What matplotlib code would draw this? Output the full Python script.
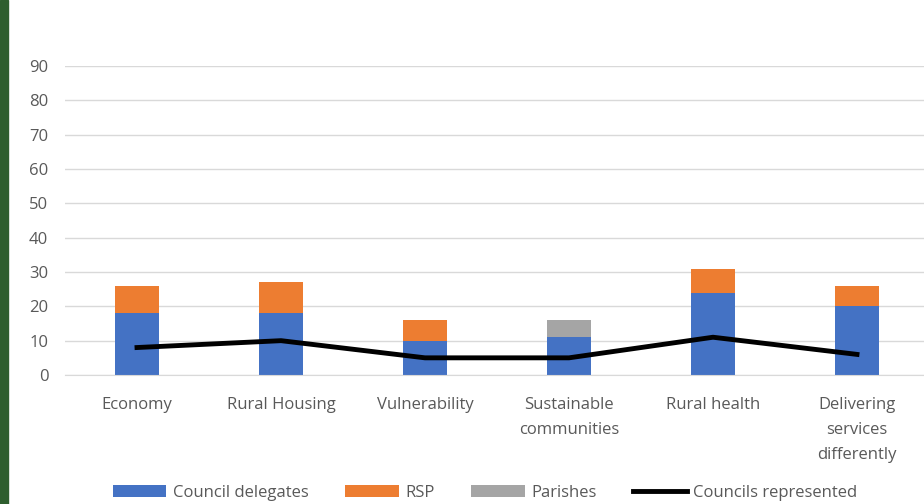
import matplotlib.pyplot as plt
from matplotlib.patches import Rectangle

temas = ["Economy", "Rural Housing", "Vulnerability", "Sustainable\ncommunities",
         "Rural health", "Delivering\nservices\ndifferently"]
delegados = [18, 18, 10, 11, 24, 20]
rsp = [8, 9, 6, 0, 7, 6]
parroquias = [0, 0, 0, 5, 0, 0]
consejos = [8, 10, 5, 5, 11, 6]

azul = "#4472C4"
naranja = "#ED7D31"
gris = "#A5A5A5"
texto = "#595959"

plt.rcParams["font.family"] = ["Liberation Sans Narrow", "Open Sans", "DejaVu Sans"]

fig = plt.figure(figsize=(9.24, 5.04), dpi=100)
fig.patches.append(Rectangle((0, 0), 8 / 924, 1, transform=fig.transFigure,
                             color="#2E5E2E", zorder=0))

ax = fig.add_axes([65 / 924, 129 / 504, 864 / 924, 309 / 504])
x = list(range(len(temas)))
base2 = [a + b for a, b in zip(delegados, rsp)]

b1 = ax.bar(x, delegados, width=0.31, color=azul, label="Council delegates", zorder=2)
b2 = ax.bar(x, rsp, width=0.31, bottom=delegados, color=naranja, label="RSP", zorder=2)
b3 = ax.bar(x, parroquias, width=0.31, bottom=base2, color=gris, label="Parishes", zorder=2)
l1, = ax.plot(x, consejos, color="black", linewidth=3.5, label="Councils represented", zorder=3)

ax.set_xlim(-0.5, 5.5)
ax.set_ylim(0, 90)
ax.set_yticks(range(0, 91, 10))
ax.yaxis.grid(True, color="#D9D9D9", linewidth=1, zorder=0)
ax.set_axisbelow(True)
for s in ["top", "right", "left"]:
    ax.spines[s].set_visible(False)
ax.spines["bottom"].set_color("#D9D9D9")
ax.tick_params(axis="y", length=0, pad=12, labelsize=12, labelcolor=texto)
ax.tick_params(axis="x", length=0, pad=16, labelsize=12, labelcolor=texto)
ax.set_xticks(x)
ax.set_xticklabels(temas, linespacing=1.75)

fig.legend([b1, b2, b3, l1],
           ["Council delegates", "RSP", "Parishes", "Councils represented"],
           loc="center", bbox_to_anchor=(0.525, 0.022), ncol=4, frameon=False,
           fontsize=12, labelcolor=texto, handlelength=3.2, handleheight=0.7,
           columnspacing=2.2, handletextpad=0.4)

plt.savefig("out.png", dpi=100)
